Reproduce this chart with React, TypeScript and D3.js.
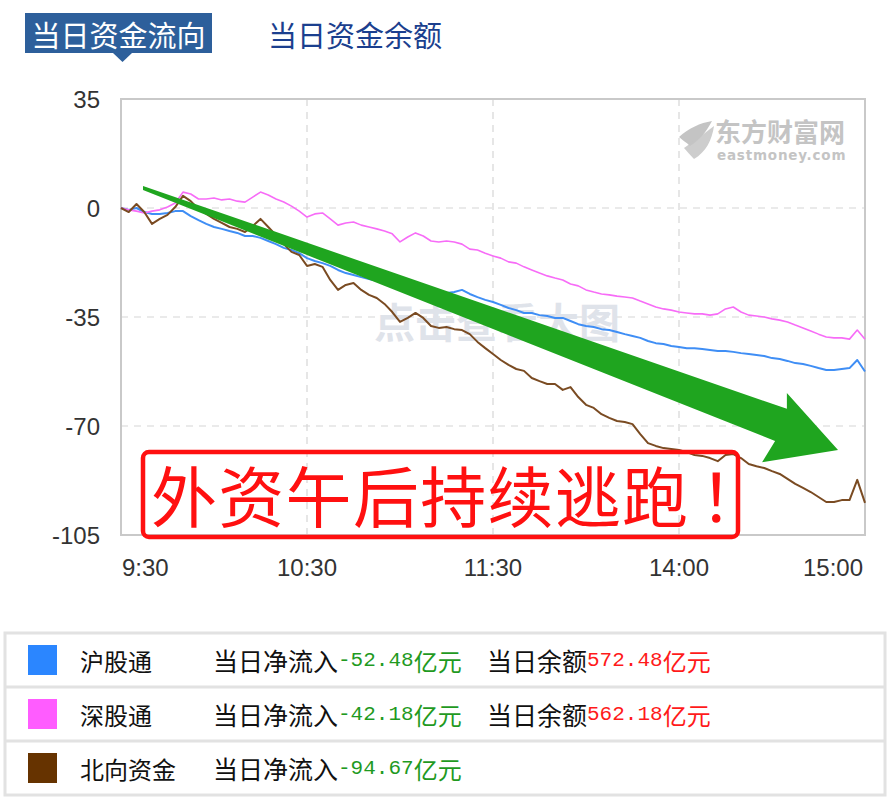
import React from "react";
import * as d3 from "d3";

// ---- data (values in 亿元, sampled every 2.5 minutes of trading time) ----
const STEP_MIN = 2.5;
const TIME_LABELS = ["9:30", "10:30", "11:30", "14:00", "15:00"];
const TIME_TICKS = [0, 60, 120, 180, 240];
const Y_TICKS = [35, 0, -35, -70, -105];
const GRID_Y = [0, -35, -70];
const GRID_X = [60, 120, 180];

const SH = [ // 沪股通
  0, -0.6, 0, -1.3, -1.9, -1.9, -1.6, -1.0, -1.0, -2.6, -3.9, -5.1, -6.1, -6.7, -7.4, -8.0, -9.0, -9.0, -9.6, -10.6,
  -11.6, -12.8, -13.5, -14.5, -16.1, -17.0, -17.7, -18.6, -19.9, -20.9, -21.5, -22.2, -22.8, -23.4, -24.1, -24.7, -25.4, -26.0, -26.3, -26.6,
  -27.0, -27.3, -27.3, -27.0, -26.3, -27.6, -28.6, -29.5, -30.2, -31.1, -32.1, -32.8, -33.7, -33.7, -34.4, -34.7, -35.3, -35.3, -36.3, -37.3,
  -37.9, -38.2, -38.9, -39.2, -39.8, -40.5, -41.1, -41.7, -42.7, -43.4, -43.7, -44.3, -44.6, -45.0, -45.0, -45.3, -45.6, -45.9, -45.9, -46.2,
  -46.6, -46.9, -47.2, -47.5, -48.2, -48.5, -49.1, -49.8, -50.1, -50.7, -51.4, -52.0, -52.0, -51.7, -51.4, -48.8, -52.48,
];
const SZ = [ // 深股通
  0, -0.6, -1.0, -1.6, -1.0, -0.6, 0.3, 1.6, 5.1, 4.5, 2.9, 2.9, 3.2, 2.6, 2.9, 2.2, 1.9, 3.5, 5.1, 4.2,
  2.9, 1.9, 0.6, -1.0, -2.9, -1.9, -1.6, -3.5, -5.5, -4.8, -4.5, -5.5, -6.1, -6.7, -7.4, -8.3, -10.9, -9.3, -8.0, -9.0,
  -10.6, -10.9, -10.6, -10.9, -11.6, -13.2, -13.5, -14.5, -15.4, -16.1, -17.3, -17.7, -18.9, -19.9, -20.9, -21.8, -22.5, -23.1, -24.4, -25.0,
  -26.3, -27.0, -27.6, -27.9, -28.3, -28.6, -28.9, -29.9, -30.8, -31.8, -32.4, -32.8, -33.4, -33.7, -34.0, -34.0, -34.4, -34.0, -32.4, -31.8,
  -33.4, -34.4, -34.7, -35.0, -35.6, -36.0, -36.6, -37.6, -38.5, -39.5, -40.5, -41.4, -41.7, -41.7, -42.1, -39.2, -42.18,
];
const NB = [ // 北向资金
  0, -1.3, 1.3, -1.3, -5.1, -3.5, -2.2, 0.3, 3.9, 2.2, -0.3, -1.9, -3.5, -4.8, -6.1, -6.7, -7.7, -5.8, -3.5, -6.1,
  -8.7, -11.6, -14.1, -15.1, -18.6, -18.0, -18.9, -23.1, -26.3, -24.7, -24.1, -26.3, -27.9, -28.9, -30.8, -33.4, -36.6, -35.3, -33.7, -35.3,
  -37.9, -38.5, -38.2, -38.9, -39.2, -40.5, -43.0, -45.0, -46.9, -48.8, -50.4, -51.7, -52.3, -54.6, -55.6, -56.5, -56.5, -58.4, -57.5, -60.7,
  -63.2, -64.2, -66.2, -67.4, -68.4, -68.7, -69.4, -72.6, -75.5, -76.4, -77.1, -77.4, -77.7, -78.4, -79.3, -79.6, -80.3, -81.3, -79.3, -79.0,
  -80.3, -82.2, -82.9, -83.5, -84.5, -85.4, -87.0, -88.6, -89.9, -91.2, -92.8, -94.4, -94.4, -93.8, -93.8, -87.3, -94.67,
];

const SERIES_NAMES = ["沪股通", "深股通", "北向资金"];
const LINE_COLORS = ["#3f8ef5", "#f76cf7", "#7a4b22"];
const SWATCH_COLORS = ["#2b86ff", "#ff5cff", "#663300"];
const NET_INFLOW = ["-52.48", "-42.18", "-94.67"];
const BALANCE = ["572.48", "562.18", null];

// annotation arrow in (minute, value) space
const ARROW = [
  [7.1, 7.1], [214.8, -64.5], [214.8, -59.4], [231.3, -77.7], [206.8, -81.6], [211.0, -74.8], [7.1, 5.8],
];

const CJK = "'Noto Sans CJK SC', 'Noto Sans', sans-serif";

export default function App() {
  const W = 891, H = 800;
  const x = d3.scaleLinear().domain([0, 240]).range([121, 865]);
  const y = d3.scaleLinear().domain([-105, 35]).range([535, 99]);
  const lineGen = d3.line<number>().x((_, i) => x(i * STEP_MIN)).y((d) => y(d));
  const arrowPath = d3.line<number[]>().x((p) => x(p[0])).y((p) => y(p[1]))(ARROW as any) + "Z";
  const data = [SH, SZ, NB];
  const widths = [2, 1.6, 2];

  const rowTop = [633, 687, 741];

  return (
    <svg width={W} height={H} style={{ position: "absolute", left: 0, top: 0, background: "#fff" }}>
      <rect x={0} y={0} width={W} height={H} fill="#fff" />
      {/* tabs */}
      <rect x={25} y={13} width={187} height={40} fill="#2d5f9b" />
      <path d="M113,53 L132,53 L122.5,62 Z" fill="#2d5f9b" />
      <text x={118.5} y={34} fill="#fff" fontSize={29} fontFamily={CJK} textAnchor="middle" dominantBaseline="central">当日资金流向</text>
      <text x={355} y={34} fill="#1b3f8e" fontSize={29} fontFamily={CJK} textAnchor="middle" dominantBaseline="central">当日资金余额</text>

      {/* grid */}
      {GRID_Y.map((v) => (
        <line key={"gy" + v} x1={x(0)} x2={x(240)} y1={y(v)} y2={y(v)} stroke="#d6d6d6" strokeWidth={1.2} strokeDasharray="7,6" />
      ))}
      {GRID_X.map((m) => (
        <line key={"gx" + m} x1={x(m)} x2={x(m)} y1={y(35)} y2={y(-105)} stroke="#d6d6d6" strokeWidth={1.2} strokeDasharray="7,6" />
      ))}
      <rect x={x(0)} y={y(35)} width={x(240) - x(0)} height={y(-105) - y(35)} fill="none" stroke="#c9c9c9" strokeWidth={2} />

      {/* watermarks */}
      <g fill="#c4c4c4">
        <path d="M679,137 C689,128 700,123 712,121 C706,132 700,140 690,146 C686,142 682,140 679,137 Z" />
        <path d="M684,148 C694,141 704,134 714,126 C712,140 706,152 694,159 C690,155 687,151 684,148 Z" opacity={0.85} />
      </g>
      <text x={715} y={130} fontSize={26} fontFamily={CJK} fontWeight="bold" dominantBaseline="central" fill="#c4c4c4">东方财富网</text>
      <text x={717} y={155} fontSize={13.5} fontFamily="'DejaVu Sans', sans-serif" fontWeight="bold" dominantBaseline="central" fill="#c4c4c4" letterSpacing={0.8}>eastmoney.com</text>
      <text x={497} y={320} fontSize={41} fontFamily={CJK} fontWeight="bold" textAnchor="middle" dominantBaseline="central" fill="#dfe3ea">点击查看大图</text>

      {/* axis labels */}
      {Y_TICKS.map((v) => (
        <text key={"yt" + v} x={100} y={y(v)} fontSize={24} fontFamily="'Liberation Sans', Arial, sans-serif" fill="#333" textAnchor="end" dominantBaseline="central">{v}</text>
      ))}
      {TIME_TICKS.map((m, i) => (
        <text key={"xt" + m} x={i === 0 ? x(m) + 1 : i === TIME_TICKS.length - 1 ? x(m) - 2 : x(m)} y={567} fontSize={24}
          fontFamily="'Liberation Sans', Arial, sans-serif" fill="#333"
          textAnchor={i === 0 ? "start" : i === TIME_TICKS.length - 1 ? "end" : "middle"} dominantBaseline="central">{TIME_LABELS[i]}</text>
      ))}

      {/* series */}
      {data.map((arr, i) => (
        <path key={"s" + i} d={lineGen(arr) || ""} fill="none" stroke={LINE_COLORS[i]} strokeWidth={widths[i]} strokeLinejoin="round" />
      ))}

      {/* annotation arrow */}
      <path d={arrowPath} fill="#1fa51f" />

      {/* annotation box */}
      <rect x={143} y={452} width={595} height={85} rx={6} fill="none" stroke="#ff1010" strokeWidth={4.5} />
      <text x={151} y={493} fontSize={66} fontFamily={CJK} fill="#ff1010" letterSpacing={1.3} dominantBaseline="central">
        外资午后持续逃跑<tspan x={717} textAnchor="middle" fontFamily="'Noto Sans CJK TC', 'Noto Sans CJK SC', sans-serif">！</tspan>
      </text>

      {/* legend table */}
      <rect x={5} y={633} width={880} height={162} fill="none" stroke="#e2e2e2" strokeWidth={3} />
      <line x1={5} x2={885} y1={687} y2={687} stroke="#e2e2e2" strokeWidth={3} />
      <line x1={5} x2={885} y1={741} y2={741} stroke="#e2e2e2" strokeWidth={3} />
      {SERIES_NAMES.map((name, i) => {
        const cy = rowTop[i] + 27;
        return (
          <g key={"lg" + i}>
            <rect x={28} y={cy - 15} width={29} height={30} fill={SWATCH_COLORS[i]} />
            <text x={80} y={cy} fontSize={24} fontFamily={CJK} fill="#111" dominantBaseline="central">{name}</text>
            <text x={213} y={cy} fontSize={25} fontFamily={CJK} fill="#111" dominantBaseline="central">
              当日净流入
              <tspan fill="#1f9a1f" fontFamily="'Liberation Mono', 'DejaVu Sans Mono', monospace" fontSize={21}>{NET_INFLOW[i]}</tspan>
              <tspan fill="#1f9a1f" fontSize={24}>亿元</tspan>
            </text>
            {BALANCE[i] !== null && (
              <text x={487} y={cy} fontSize={25} fontFamily={CJK} fill="#111" dominantBaseline="central">
                当日余额
                <tspan fill="#ff1a1a" fontFamily="'Liberation Mono', 'DejaVu Sans Mono', monospace" fontSize={21}>{BALANCE[i]}</tspan>
                <tspan fill="#ff1a1a" fontSize={24}>亿元</tspan>
              </text>
            )}
          </g>
        );
      })}
    </svg>
  );
}
